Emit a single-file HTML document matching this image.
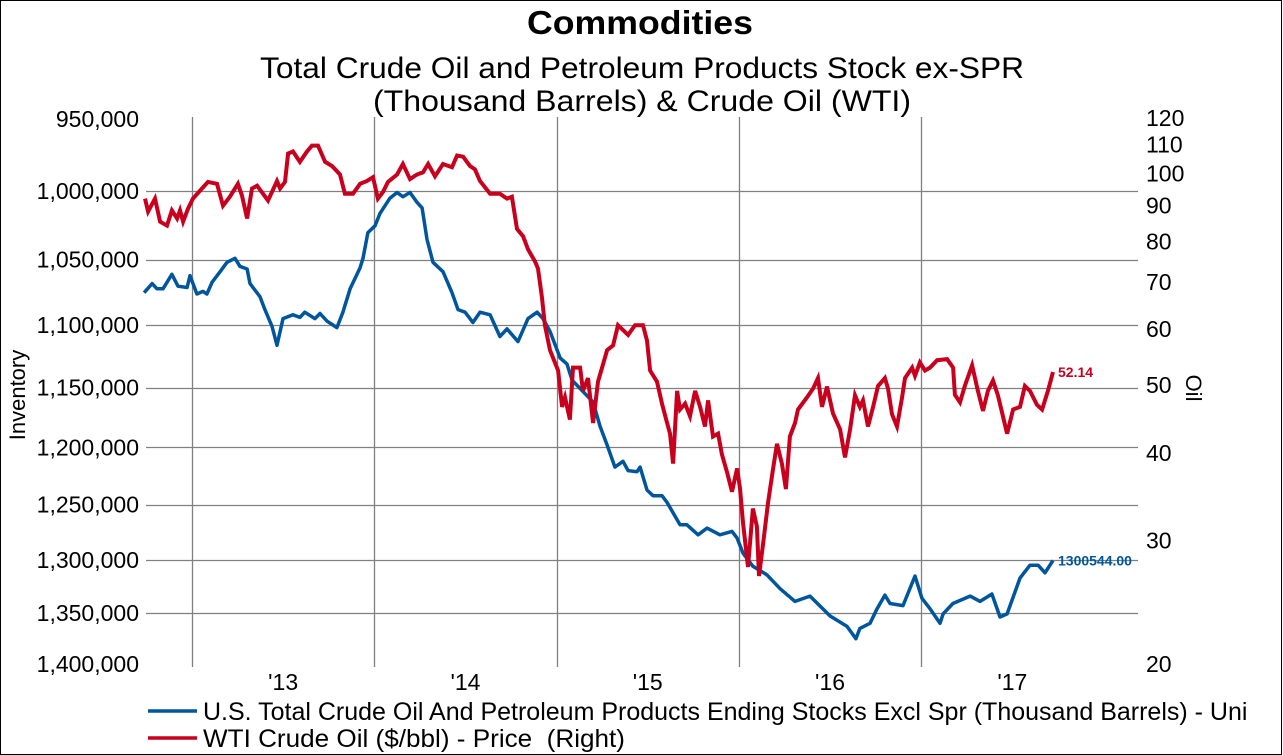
<!DOCTYPE html>
<html><head><meta charset="utf-8"><style>
html,body{margin:0;padding:0;background:#fff;}
svg{display:block;font-family:"Liberation Sans",Arial,sans-serif;}
</style></head><body>
<svg id="chart" width="1283" height="755" viewBox="0 0 1283 755" xmlns="http://www.w3.org/2000/svg">
<rect x="0.5" y="0.5" width="1281" height="754" fill="#fff" stroke="#000" stroke-width="1"/>
<text x="640" y="34" text-anchor="middle" font-size="33" font-weight="bold" textLength="226" lengthAdjust="spacingAndGlyphs">Commodities</text>
<text x="642" y="78" text-anchor="middle" font-size="30" textLength="764" lengthAdjust="spacingAndGlyphs">Total Crude Oil and Petroleum Products Stock ex-SPR</text>
<text x="642" y="111" text-anchor="middle" font-size="30" textLength="538" lengthAdjust="spacingAndGlyphs">(Thousand Barrels) &amp; Crude Oil (WTI)</text>
<g id="grid"></g>
<g id="leftAxis"></g>
<g id="rightAxis"></g>
<g id="xAxis"></g>
<text transform="translate(25,395) rotate(-90)" text-anchor="middle" font-size="22">Inventory</text>
<text transform="translate(1186,388) rotate(90)" text-anchor="middle" font-size="22">Oil</text>
<g id="series"></g>
<g>
<line x1="148" y1="711" x2="197" y2="711" stroke="#00569c" stroke-width="3.5"/>
<text x="203" y="720" font-size="25" xml:space="preserve">U.S. Total Crude Oil And Petroleum Products Ending Stocks Excl Spr (Thousand Barrels) - Uni</text>
<line x1="148" y1="738" x2="197" y2="738" stroke="#c8001e" stroke-width="3.5"/>
<text x="203" y="747" font-size="25" xml:space="preserve" textLength="422" lengthAdjust="spacingAndGlyphs">WTI Crude Oil ($/bbl) - Price  (Right)</text>
</g>
</svg>
<script>
const invDates=[2012.737,2012.781,2012.808,2012.841,2012.890,2012.923,2012.973,2012.989,2013.027,2013.060,2013.082,2013.110,2013.154,2013.192,2013.236,2013.263,2013.302,2013.318,2013.373,2013.400,2013.439,2013.466,2013.499,2013.554,2013.592,2013.619,2013.674,2013.702,2013.741,2013.795,2013.828,2013.867,2013.922,2013.938,2013.965,2014.004,2014.031,2014.086,2014.125,2014.157,2014.196,2014.234,2014.262,2014.289,2014.322,2014.377,2014.426,2014.459,2014.498,2014.541,2014.580,2014.635,2014.689,2014.728,2014.788,2014.843,2014.893,2014.925,2014.964,2015.019,2015.057,2015.085,2015.200,2015.238,2015.277,2015.320,2015.364,2015.392,2015.441,2015.458,2015.496,2015.529,2015.578,2015.606,2015.677,2015.715,2015.776,2015.825,2015.896,2015.962,2015.990,2016.023,2016.077,2016.154,2016.226,2016.308,2016.390,2016.500,2016.593,2016.642,2016.664,2016.719,2016.758,2016.801,2016.829,2016.900,2016.966,2017.004,2017.048,2017.103,2017.120,2017.174,2017.268,2017.323,2017.388,2017.432,2017.471,2017.542,2017.597,2017.641,2017.679,2017.723];
const invValues=[1075,1068,1072,1072,1061,1070,1071,1062,1076,1074,1076,1067,1059,1052,1049,1055,1057,1068,1078,1088,1101,1116,1095,1092,1094,1090,1095,1091,1097,1102,1090,1072,1056,1049,1030,1025,1016,1005,1001,1004,1001,1008,1012,1035,1052,1059,1075,1088,1090,1098,1090,1092,1109,1103,1113,1095,1090,1095,1105,1126,1131,1144,1162,1182,1198,1217,1212,1220,1221,1217,1237,1242,1242,1248,1268,1268,1277,1271,1277,1274,1280,1294,1306,1314,1327,1339,1334,1353,1363,1375,1365,1360,1346,1333,1341,1343,1315,1336,1346,1360,1351,1341,1334,1339,1332,1354,1351,1317,1305,1305,1312,1300.544];
const wtiDates=[2012.742,2012.759,2012.797,2012.825,2012.863,2012.890,2012.918,2012.934,2012.951,2012.978,2013.005,2013.055,2013.088,2013.137,2013.170,2013.208,2013.252,2013.274,2013.302,2013.329,2013.357,2013.417,2013.466,2013.483,2013.510,2013.527,2013.554,2013.592,2013.631,2013.658,2013.691,2013.730,2013.768,2013.812,2013.839,2013.883,2013.922,2013.960,2013.993,2014.020,2014.048,2014.075,2014.125,2014.157,2014.196,2014.234,2014.267,2014.295,2014.333,2014.377,2014.426,2014.454,2014.487,2014.525,2014.552,2014.580,2014.635,2014.689,2014.728,2014.755,2014.783,2014.816,2014.843,2014.882,2014.898,2014.920,2014.936,2014.964,2015.008,2015.030,2015.046,2015.073,2015.090,2015.129,2015.145,2015.172,2015.200,2015.227,2015.277,2015.310,2015.337,2015.392,2015.430,2015.474,2015.496,2015.513,2015.551,2015.578,2015.606,2015.622,2015.639,2015.661,2015.677,2015.705,2015.732,2015.760,2015.787,2015.814,2015.831,2015.858,2015.886,2015.907,2015.935,2015.962,2015.990,2016.006,2016.023,2016.050,2016.077,2016.099,2016.110,2016.132,2016.160,2016.187,2016.209,2016.236,2016.258,2016.280,2016.308,2016.324,2016.374,2016.407,2016.434,2016.456,2016.483,2016.516,2016.555,2016.582,2016.610,2016.637,2016.664,2016.681,2016.708,2016.736,2016.763,2016.801,2016.818,2016.840,2016.867,2016.895,2016.911,2016.950,2016.966,2016.993,2017.021,2017.048,2017.087,2017.142,2017.175,2017.185,2017.213,2017.240,2017.279,2017.311,2017.339,2017.366,2017.394,2017.421,2017.471,2017.504,2017.542,2017.569,2017.597,2017.635,2017.663,2017.696,2017.723];
const wtiValues=[92.1,88.3,92.1,85.4,84.3,88.6,86.3,88.6,85.4,89.1,92.1,95.2,97.3,96.7,90.0,92.7,96.7,93.0,86.3,95.2,96.1,91.5,97.6,95.2,97.3,106.8,107.5,103.9,107.5,109.6,109.6,103.9,102.5,99.7,93.6,93.6,96.7,97.6,98.8,92.1,94.2,97.3,99.7,103.2,98.2,99.7,100.4,103.2,99.1,103.2,102.1,106.1,105.7,102.5,101.4,97.6,93.6,93.6,92.1,92.7,83.4,81.4,78.0,74.9,73.2,66.5,60.8,56.0,52.4,46.5,48.0,44.6,52.9,52.9,49.0,51.1,44.1,50.5,56.0,56.9,60.8,58.9,60.8,60.8,57.8,52.4,50.5,47.0,44.1,42.6,38.6,49.0,46.1,47.0,45.1,49.0,46.5,43.6,47.5,42.2,42.6,39.8,37.5,35.2,38.0,35.6,31.7,27.5,33.3,31.4,26.7,29.6,34.0,37.9,41.2,38.6,35.5,42.2,44.1,46.1,48.0,49.4,51.1,46.5,49.7,45.5,43.2,39.4,43.2,48.3,46.5,47.5,43.6,46.5,49.8,51.1,49.4,45.4,43.6,48.0,51.1,52.9,51.5,53.8,52.4,52.9,54.2,54.4,52.9,48.4,47.2,49.9,53.3,49.0,45.9,49.0,50.7,48.3,42.6,46.1,46.5,49.8,49.0,46.8,46.1,49.1,52.14];
const leftTicks=[950,1000,1050,1100,1150,1200,1250,1300,1350,1400];
const leftTickLabels=["950,000","1,000,000","1,050,000","1,100,000","1,150,000","1,200,000","1,250,000","1,300,000","1,350,000","1,400,000"];
const rightTicks=[20,30,40,50,60,70,80,90,100,110,120];
const yearTicks=[2013,2014,2015,2016,2017];
const yearLabels=["'13","'14","'15","'16","'17"];

const NS="http://www.w3.org/2000/svg";
const PL=146,PR=1138;
function xScale(t){return 192+(t-2013)*182.3;}
function yLeft(v){return 119+545*Math.log(v/950)/Math.log(1400/950);}
function yRight(p){return 664-546*Math.log(p/20)/Math.log(6);}
function mk(tag,attrs,parent){const e=document.createElementNS(NS,tag);for(const k in attrs)e.setAttribute(k,attrs[k]);parent.appendChild(e);return e;}

const grid=document.getElementById('grid');
leftTicks.forEach((v,i)=>{
  if(v===950||v===1400)return;
  const y=Math.round(yLeft(v))+0.5;
  const l=mk('line',{x1:PL,x2:PR,y1:y,y2:y,stroke:'#808080','stroke-width':1.3},grid);
  
  
});
yearTicks.forEach((t,i)=>{
  const x=Math.round(xScale(t))+0.5;
  const l=mk('line',{x1:x,x2:x,y1:117,y2:667,stroke:'#808080','stroke-width':1.3},grid);
  
  
});
const la=document.getElementById('leftAxis');
leftTicks.forEach((v,i)=>{
  const t=mk('text',{x:139,y:yLeft(v)+8,'text-anchor':'end','font-size':23},la);
  t.textContent=leftTickLabels[i];
  
  
});
const ra=document.getElementById('rightAxis');
rightTicks.forEach((p,i)=>{
  const t=mk('text',{x:1146,y:yRight(p)+8,'font-size':23},ra);
  t.textContent=String(p);
  
  
});
const xa=document.getElementById('xAxis');
yearTicks.forEach((yr,i)=>{
  const t=mk('text',{x:xScale(yr+0.5),y:690,'text-anchor':'middle','font-size':23},xa);
  t.textContent=yearLabels[i];
  
  
});
const ser=document.getElementById('series');
function pathFrom(ds,vs,yf){return ds.map((d,i)=>(i?'L':'M')+xScale(d).toFixed(1)+','+yf(vs[i]).toFixed(1)).join('');}
const pInv=mk('path',{d:pathFrom(invDates,invValues,yLeft),fill:'none',stroke:'#00569c','stroke-width':3.5,'stroke-linejoin':'round'},ser);


const pW=mk('path',{d:pathFrom(wtiDates,wtiValues,yRight),fill:'none',stroke:'#c8001e','stroke-width':4,'stroke-linejoin':'miter'},ser);


const li=invValues.length-1, lw=wtiValues.length-1;
const t1=mk('text',{x:xScale(invDates[li])+5,y:yLeft(invValues[li])+5,'font-size':14,'font-weight':'bold',fill:'#00569c'},ser);
t1.textContent=(invValues[li]*1000).toFixed(2);


const t2=mk('text',{x:xScale(wtiDates[lw])+5,y:yRight(wtiValues[lw])+5,'font-size':14,'font-weight':'bold',fill:'#c8001e'},ser);
t2.textContent=wtiValues[lw].toFixed(2);


</script>
</body></html>
